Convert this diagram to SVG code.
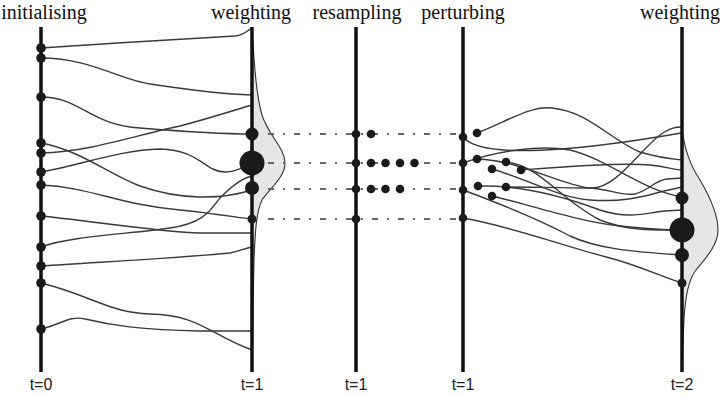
<svg xmlns="http://www.w3.org/2000/svg" width="720" height="397" viewBox="0 0 720 397">
<style>
.axis{stroke:#111;stroke-width:3.5;fill:none}
.p{fill:#1a1a1a}
.c{fill:none;stroke:#3a3a3a;stroke-width:1.4}
.d{fill:#e6e6e6;stroke:#333;stroke-width:1.1}
.dash{stroke:#666;stroke-width:1.8;stroke-dasharray:6 9 2 9;fill:none}
.h{font-family:'Liberation Serif','DejaVu Serif','Times New Roman',serif;font-size:20px;fill:#111;text-anchor:middle}
.t{font-family:'Liberation Sans',Arial,sans-serif;font-size:16px;fill:#222;text-anchor:middle}
</style>
<rect width="720" height="397" fill="#fff"/>
<g id="densities">
<path class="d" d="M252,28 C254,60 256,95 262,115 C268,135 285,148 285,163 C285,178 268,190 262,200 C256,212 255,235 254,260 C253,300 253,340 252,372 Z"/>
<path class="d" d="M682,127 C684,150 690,165 700,180 C710,197 718,215 718,230 C718,245 706,258 696,270 C688,280 685,300 684,320 C683,340 683,355 682,372 Z"/>
</g>
<g id="connectors">
<path class="c" d="M41,48 C100,44 200,38 235,36 C245,35 248,30 252,28"/>
<path class="c" d="M41,58 C90,58 120,80 150,84 C190,90 220,94 252,95"/>
<path class="c" d="M41,97 C80,97 90,125 140,128 C190,132 220,134 252,134"/>
<path class="c" d="M41,153 C90,152 140,134 180,126 C210,118 235,110 252,105"/>
<path class="c" d="M41,143 C80,150 110,175 140,186 C180,200 220,200 252,190"/>
<path class="c" d="M41,172 C80,165 120,150 160,149 C200,150 205,172 225,172 C238,172 245,166 252,163"/>
<path class="c" d="M41,185 C90,187 120,205 180,210 C220,214 240,218 252,219"/>
<path class="c" d="M41,216 C100,222 160,232 200,233 L252,233"/>
<path class="c" d="M41,247 C70,236 130,234 170,228 C210,222 212,205 222,196 C232,186 243,178 252,176"/>
<path class="c" d="M41,266 C100,262 180,258 230,253 C240,251 245,248 252,247"/>
<path class="c" d="M41,283 C90,295 110,313 150,314 C200,315 210,335 252,350"/>
<path class="c" d="M41,329 C60,325 70,315 85,319 C110,325 140,330 200,331 L252,331"/>
<path class="dash" d="M268,134 H463 M268,163 H463 M268,189 H463 M268,219 H463"/>
<path class="c" d="M463,137 C475,152 520,152 560,149 C610,146 650,138 682,133"/>
<path class="c" d="M477,133 C510,120 530,106 552,108 C590,112 610,140 640,152 C660,158 672,159 682,160"/>
<path class="c" d="M463,163 C500,150 540,145 570,150 C610,160 640,190 682,197"/>
<path class="c" d="M477,159 C520,160 560,185 590,188 C615,190 640,150 660,135 C670,128 675,127 682,127"/>
<path class="c" d="M492,169 C530,180 560,198 590,200 C620,202 640,198 660,192 L682,187"/>
<path class="c" d="M506,162 C540,165 560,200 600,220 C630,232 660,230 682,230"/>
<path class="c" d="M521,170 C560,167 620,162 650,165 C668,167 675,170 682,170"/>
<path class="c" d="M463,190 C490,200 530,215 570,236 C600,250 640,252 682,255"/>
<path class="c" d="M478,186 C520,185 560,195 600,210 C630,220 650,212 665,211 L682,210"/>
<path class="c" d="M492,196 C530,205 580,222 620,226 C650,229 665,230 682,230"/>
<path class="c" d="M506,187 C540,187 570,188 590,188 C610,189 620,196 635,194 C650,190 655,180 667,179 L682,178"/>
<path class="c" d="M463,218 C510,226 560,245 610,258 C640,266 665,278 682,283"/>
</g>
<g id="axis-init">
<line class="axis" x1="41" y1="27" x2="41" y2="372"/>
<circle class="p" cx="41" cy="48" r="4.8"/><circle class="p" cx="41" cy="58" r="4.8"/>
<circle class="p" cx="41" cy="97" r="4.8"/><circle class="p" cx="41" cy="143" r="4.8"/>
<circle class="p" cx="41" cy="153" r="4.8"/><circle class="p" cx="41" cy="172" r="4.8"/>
<circle class="p" cx="41" cy="185" r="4.8"/><circle class="p" cx="41" cy="216" r="4.8"/>
<circle class="p" cx="41" cy="247" r="4.8"/><circle class="p" cx="41" cy="266" r="4.8"/>
<circle class="p" cx="41" cy="283" r="4.8"/><circle class="p" cx="41" cy="329" r="4.8"/>
<text class="h" x="44" y="19" font-family="'Liberation Serif', serif">initialising</text>
<text class="t" x="41" y="390">t=0</text>
</g>
<g id="axis-weight1">
<line class="axis" x1="252" y1="27" x2="252" y2="372"/>
<circle class="p" cx="252" cy="134" r="6.5"/><circle class="p" cx="252" cy="163" r="12.5"/>
<circle class="p" cx="252" cy="188" r="7"/><circle class="p" cx="252" cy="219" r="4.5"/>
<text class="h" x="251" y="19">weighting</text>
<text class="t" x="252" y="390">t=1</text>
</g>
<g id="axis-resample">
<line class="axis" x1="356" y1="27" x2="356" y2="372"/>
<circle class="p" cx="356" cy="134" r="4.3"/><circle class="p" cx="371" cy="134" r="4.3"/>
<circle class="p" cx="356" cy="163" r="4.3"/><circle class="p" cx="371" cy="163" r="4.3"/>
<circle class="p" cx="385.5" cy="163" r="4.3"/><circle class="p" cx="400" cy="163" r="4.3"/>
<circle class="p" cx="414.5" cy="163" r="4.3"/>
<circle class="p" cx="356" cy="189" r="4.3"/><circle class="p" cx="371" cy="189" r="4.3"/>
<circle class="p" cx="385.5" cy="189" r="4.3"/><circle class="p" cx="400" cy="189" r="4.3"/>
<circle class="p" cx="356" cy="219" r="4.3"/>
<text class="h" x="357" y="19">resampling</text>
<text class="t" x="356" y="390">t=1</text>
</g>
<g id="axis-perturb">
<line class="axis" x1="463" y1="27" x2="463" y2="372"/>
<circle class="p" cx="463" cy="137" r="4.3"/><circle class="p" cx="477" cy="133" r="4.3"/>
<circle class="p" cx="463" cy="163" r="4.3"/><circle class="p" cx="477" cy="159" r="4.3"/>
<circle class="p" cx="492" cy="169" r="4.3"/><circle class="p" cx="506" cy="162" r="4.3"/>
<circle class="p" cx="521" cy="170" r="4.3"/>
<circle class="p" cx="463" cy="190" r="4.3"/><circle class="p" cx="478" cy="186" r="4.3"/>
<circle class="p" cx="492" cy="196" r="4.3"/><circle class="p" cx="506" cy="187" r="4.3"/>
<circle class="p" cx="463" cy="218" r="4.3"/>
<text class="h" x="463" y="19">perturbing</text>
<text class="t" x="463" y="390">t=1</text>
</g>
<g id="axis-weight2">
<line class="axis" x1="682" y1="27" x2="682" y2="372"/>
<circle class="p" cx="682" cy="198" r="6.5"/><circle class="p" cx="682" cy="230" r="12.5"/>
<circle class="p" cx="682" cy="255" r="7"/><circle class="p" cx="682" cy="283" r="4.5"/>
<text class="h" x="680" y="19">weighting</text>
<text class="t" x="682" y="390">t=2</text>
</g>
</svg>
